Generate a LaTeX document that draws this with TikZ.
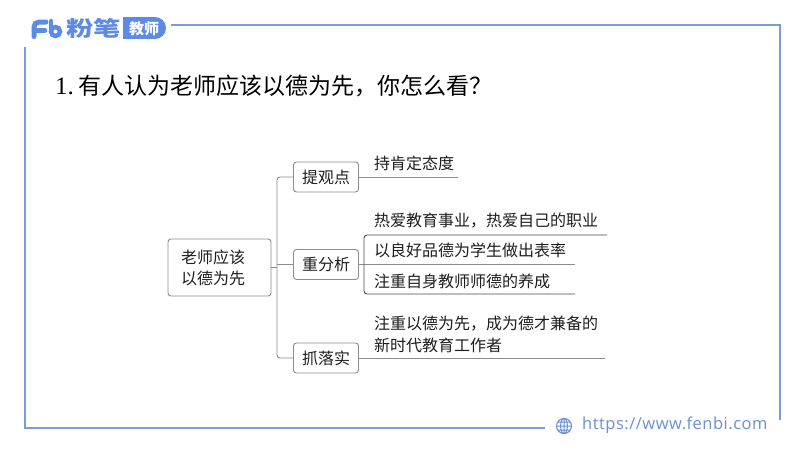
\documentclass[tikz,border=0pt]{standalone}
\usepackage{fontspec}
\setmainfont{Liberation Serif}
\newfontfamily\cjk{Noto Sans CJK SC}
\newfontfamily\urlfont[LetterSpace=3]{Open Sans}
\definecolor{frameblue}{HTML}{7B9BE0}
\definecolor{logoblue}{HTML}{5C8AE6}
\definecolor{urlblue}{HTML}{6C8FD2}
\definecolor{inkc}{HTML}{1E1E1E}
\definecolor{linec}{HTML}{8C8C8C}
\tikzset{
  framel/.style={draw=frameblue,line width=1.5pt},
  boxn/.style={draw=linec,line width=0.9pt,rounded corners=3pt,minimum width=65pt,minimum height=30pt,inner sep=0pt,font=\cjk\fontsize{16}{21}\selectfont,text=inkc},
  rootn/.style={boxn,minimum width=103pt,minimum height=57pt,align=left,text width=77pt},
  leaf/.style={anchor=west,inner sep=0pt,font=\cjk\fontsize{16}{22}\selectfont,text=inkc,align=left},
  conn/.style={draw=linec,line width=0.9pt,rounded corners=3pt},
}
\begin{document}
\begin{tikzpicture}[x=1pt,y=-1pt]
\useasboundingbox (0,0) rectangle (800,450);
\fill[white] (0,0) rectangle (800,450);
% frame
\coordinate (fa) at (171,25); \coordinate (fb) at (780,25); \coordinate (fc) at (780,420);
\coordinate (fd) at (545,428); \coordinate (fe) at (25,428); \coordinate (ff) at (25,47);
\draw[framel] (fa) -- (fb) -- (fc);
\draw[framel] (fd) -- (fe) -- (ff);
% logo
\draw[logoblue,line width=5pt,line cap=round,rounded corners=5pt] (34,36.5) -- (34,22) -- (46,22);
\draw[logoblue,line width=4.5pt,line cap=round] (34,30.5) -- (45,30.5);
\draw[logoblue,line width=4.5pt] (55.5,31.5) circle (4.5);
\draw[logoblue,line width=4.5pt,line cap=round] (51,21) -- (51,31);
\node[anchor=west,inner sep=0pt,text=logoblue,xscale=1.3,font=\cjk\bfseries\fontsize{21}{21}\selectfont] (brand) at (66,28.5) {粉笔};
\fill[logoblue] (123,17) rectangle (155,39);
\fill[logoblue] (155,28) circle (11);
\node[text=white,inner sep=0pt,font=\cjk\bfseries\fontsize{15}{15}\selectfont] (edu) at (144,28.5) {教师};
% title
\node[anchor=west,inner sep=0pt,text=black,font=\fontsize{25}{25}\selectfont] (tnum) at (55,86) {1.};
\node[anchor=west,inner sep=0pt,text=black,font=\cjk\fontsize{23}{23}\selectfont] (title) at (78,86) {有人认为老师应该以德为先，你怎么看？};
% nodes
\node[rootn] (root) at (219.5,267.5) {老师应该\\以德为先};
\node[boxn] (n1) at (326,177) {提观点};
\node[boxn] (n2) at (326,264.5) {重分析};
\node[boxn] (n3) at (326,358) {抓落实};
\node[leaf] (a) at (374,163) {持肯定态度};
\node[leaf] (b) at (374,221) {热爱教育事业，热爱自己的职业};
\node[leaf] (c) at (374,250) {以良好品德为学生做出表率};
\node[leaf] (d) at (374,281) {注重自身教师师德的养成};
\node[leaf] (e) at (374,334) {注重以德为先，成为德才兼备的\\新时代教育工作者};
% connectors
\coordinate (tr) at (277,267);
\coordinate (e1) at (458,177); \coordinate (e2) at (575,264.5);
\coordinate (b1) at (607,235); \coordinate (b2) at (575,294); \coordinate (bx) at (364,264.5);
\coordinate (e3) at (605,358);
\draw[conn] (root.east |- tr) -- (tr);
\draw[conn] (n1.west) -- (tr |- n1.west) -- (tr |- n3.west) -- (n3.west);
\draw[conn] (tr |- n2.west) -- (n2.west);
\draw[conn] (n1.east) -- (e1);
\draw[conn] (n2.east) -- (e2);
\draw[conn] (n3.east) -- (e3);
\draw[conn,draw=black!70] (b1) -- (bx |- b1) -- (bx |- b2) -- (b2);
% globe icon
\draw[urlblue,line width=1.1pt] (564,426) circle (7.5);
\draw[urlblue,line width=1pt] (564,426) ellipse (3.4 and 7.5) (556.5,426) -- (571.5,426) (557.7,422) -- (570.3,422) (557.7,430) -- (570.3,430) (564,418.5) -- (564,433.5);
\node[anchor=west,inner sep=0pt,text=urlblue,font=\urlfont\fontsize{16.5}{17}\selectfont] (url) at (582,425) {https://www.fenbi.com};
\end{tikzpicture}
\end{document}
